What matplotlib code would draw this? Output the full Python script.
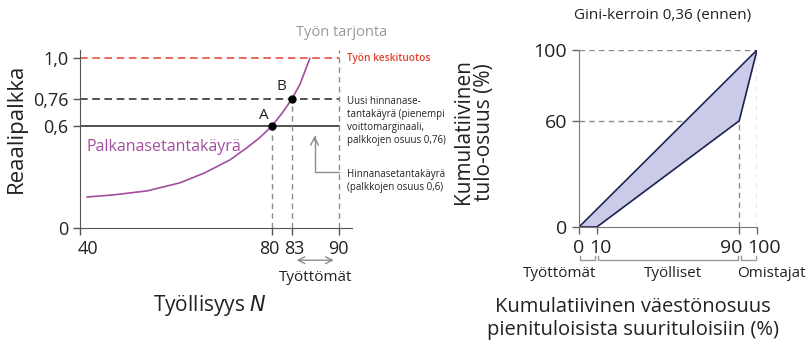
import numpy as np
import matplotlib.pyplot as plt
from matplotlib.patches import FancyArrowPatch
from matplotlib.transforms import ScaledTranslation

plt.rcParams['font.family'] = ['Open Sans', 'DejaVu Sans']

# wage-setting curve (employment N, real wage)
curve_n = [41.5, 46.9, 54.0, 60.8, 66.0, 71.3, 74.8, 77.5, 80, 81.5, 83, 84.2, 85.7]
curve_w = [0.183, 0.195, 0.219, 0.266, 0.325, 0.402, 0.473, 0.533, 0.6, 0.675, 0.76, 0.846, 1.0]

wage_avg_product = 1.0
wage_new_ps = 0.76
wage_old_ps = 0.6
labour_force = 90
point_a = (80, 0.6)
point_b = (83, 0.76)

left_xticks = [40, 80, 83, 90]
left_yticks = [0, 0.6, 0.76, 1.0]
left_yticklabels = ['0', '0,6', '0,76', '1,0']

# Lorenz curve
pop_share = [0, 10, 90, 100]
income_share = [0, 0, 60, 100]
right_xticks = [0, 10, 90, 100]
right_yticks = [0, 60, 100]

purple = '#a24d9f'
red = '#e2412f'
grey = '#8c8c8c'
dark = '#222222'
navy = '#1f2350'
fill = '#c9cbe9'

W, H = 810, 349
fig = plt.figure(figsize=(W / 100, H / 100), dpi=100)


def shift(label, dx):
    # nudge a tick label sideways by dx pixels
    label.set_transform(label.get_transform() + ScaledTranslation(dx / 100, 0, fig.dpi_scale_trans))


# ---------- left: labour market ----------
ax = fig.add_axes([80 / W, 1 - 228 / H, 272 / W, 178 / H])

# compress 40..80 relative to 80..92
k = 4.8 / 6.7


def fwd(x):
    x = np.asarray(x, dtype=float)
    return np.where(x < 80, 80 - (80 - x) * k, x)


def inv(u):
    u = np.asarray(u, dtype=float)
    return np.where(u < 80, 80 - (80 - u) / k, u)


ax.set_xscale('function', functions=(fwd, inv))
ax.set_xlim(40, 92)
ax.set_ylim(0, 1.05)

ax.plot([40, labour_force], [wage_avg_product] * 2, ls=(0, (5, 3)), color=red, lw=1.1)
ax.plot([40, labour_force], [wage_new_ps] * 2, ls=(0, (5, 3)), color=dark, lw=1.1)
ax.plot([40, labour_force], [wage_old_ps] * 2, color=dark, lw=1.1)
ax.plot([point_a[0]] * 2, [0, point_a[1]], ls=(0, (4, 3)), color=grey, lw=1)
ax.plot([point_b[0]] * 2, [0, point_b[1]], ls=(0, (4, 3)), color=grey, lw=1)
ax.plot([labour_force] * 2, [0, 1.05], ls=(0, (4, 3)), color=grey, lw=1, clip_on=False)
ax.plot(curve_n, curve_w, color=purple, lw=1.2, solid_joinstyle='round')
ax.plot(*zip(point_a, point_b), 'o', color='black', ms=5)

ax.text(point_a[0] - 0.6, point_a[1] + 0.02, 'A', ha='right', va='bottom', fontsize=11, color=dark)
ax.text(point_b[0] - 0.8, point_b[1] + 0.03, 'B', ha='right', va='bottom', fontsize=11, color=dark)
ax.text(57.6, 0.48, 'Palkanasetantakäyrä', ha='center', va='center', fontsize=11.5, color=purple)

ax.text(labour_force + 0.5, 1.155, 'Työn tarjonta', ha='center', va='center', fontsize=10.5,
        color='#9a9a9a', clip_on=False)
ax.text(91.2, wage_avg_product, 'Työn keskituotos', ha='left', va='center', fontsize=7.3,
        color=red, fontweight='semibold', clip_on=False)
ax.text(91.2, 0.778, 'Uusi hinnanase-\ntantakäyrä (pienempi\nvoittomarginaali,\npalkkojen osuus 0,76)',
        ha='left', va='top', fontsize=7, color=dark, linespacing=1.25, clip_on=False)
ax.text(91.2, 0.348, 'Hinnanasetantakäyrä\n(palkkojen osuus 0,6)',
        ha='left', va='top', fontsize=7, color=dark, linespacing=1.25, clip_on=False)

# shift of the price-setting curve
ax.plot([labour_force, 86.4, 86.4], [0.33, 0.33, 0.54], color=grey, lw=1)
ax.annotate('', xy=(86.4, 0.56), xytext=(86.4, 0.50),
            arrowprops=dict(arrowstyle='->', color=grey, lw=1, mutation_scale=14))

# unemployed span
ax.add_patch(FancyArrowPatch((83.3, -0.19), (89.7, -0.19), arrowstyle='<->', color=grey,
                             lw=1, mutation_scale=12, clip_on=False))
ax.text(86.5, -0.29, 'Työttömät', ha='center', va='center', fontsize=11, color=dark, clip_on=False)

ax.set_xticks(left_xticks)
ax.set_xticklabels([str(v) for v in left_xticks])
ax.set_yticks(left_yticks)
ax.set_yticklabels(left_yticklabels)
ax.tick_params(labelsize=13, colors='#555555', labelcolor=dark, length=5, width=1)
for lab, dx in zip(ax.get_xticklabels(), [8, -2, 3, 0]):
    shift(lab, dx)
for s in ['top', 'right']:
    ax.spines[s].set_visible(False)
for s in ['left', 'bottom']:
    ax.spines[s].set_color('#555555')

fig.text(210 / W, 1 - 305 / H, 'Työllisyys $\\it{N}$', ha='center', va='center', fontsize=15, color=dark)
fig.text(16 / W, 1 - 128 / H, 'Reaalipalkka', ha='center', va='center', rotation=90,
         fontsize=16, color=dark)

# ---------- right: Lorenz curve ----------
bx = fig.add_axes([579 / W, 1 - 227 / H, 178 / W, 177 / H])
bx.set_xlim(0, 100)
bx.set_ylim(0, 100)

bx.fill_between(pop_share, pop_share, income_share, color=fill, lw=0)
bx.plot([0, 100], [0, 100], color=navy, lw=1.2)
bx.plot(pop_share, income_share, color=navy, lw=1.2)
bx.plot([0, 100], [100, 100], ls=(0, (4, 3)), color=grey, lw=1, zorder=0)
bx.plot([100, 100], [0, 100], ls=(0, (4, 3)), color=grey, lw=1, zorder=0)
bx.plot([0, 90], [60, 60], ls=(0, (4, 3)), color=grey, lw=1, zorder=0)
bx.plot([90, 90], [0, 60], ls=(0, (4, 3)), color=grey, lw=1, zorder=0)

# population groups under the x axis
groups = [(0, 10, 'Työttömät', 10, 'right'), (10, 90, 'Työlliset', 53, 'center'),
          (90, 100, 'Omistajat', 89, 'left')]
for x0, x1, label, tx, ha in groups:
    g0, g1 = x0 + 0.8, x1 - 0.8
    bx.plot([g0, g0, g1, g1], [-16.5, -18.5, -18.5, -16.5], color='#9a9a9a', lw=1, clip_on=False)
    bx.text(tx, -26.5, label, ha=ha, va='center', fontsize=11, color=dark, clip_on=False)

bx.set_xticks(right_xticks)
bx.set_yticks(right_yticks)
bx.tick_params(labelsize=14, colors='#666666', labelcolor=dark, length=5, width=1)
for lab, dx in zip(bx.get_xticklabels(), [0, 4, -8, 7]):
    shift(lab, dx)
for s in ['top', 'right']:
    bx.spines[s].set_visible(False)
for s in ['left', 'bottom']:
    bx.spines[s].set_color('#777777')

fig.text(663 / W, 1 - 15 / H, 'Gini-kerroin 0,36 (ennen)', ha='center', va='center',
         fontsize=11, color=dark)
fig.text(633 / W, 1 - 318 / H, 'Kumulatiivinen väestönosuus\npienituloisista suurituloisiin (%)',
         ha='center', va='center', fontsize=14.5, color=dark, linespacing=1.2)
fig.text(474 / W, 1 - 132 / H, 'Kumulatiivinen\ntulo-osuus (%)', ha='center', va='center',
         rotation=90, fontsize=15, color=dark, linespacing=1.05)

fig.savefig('out.png', dpi=100)
